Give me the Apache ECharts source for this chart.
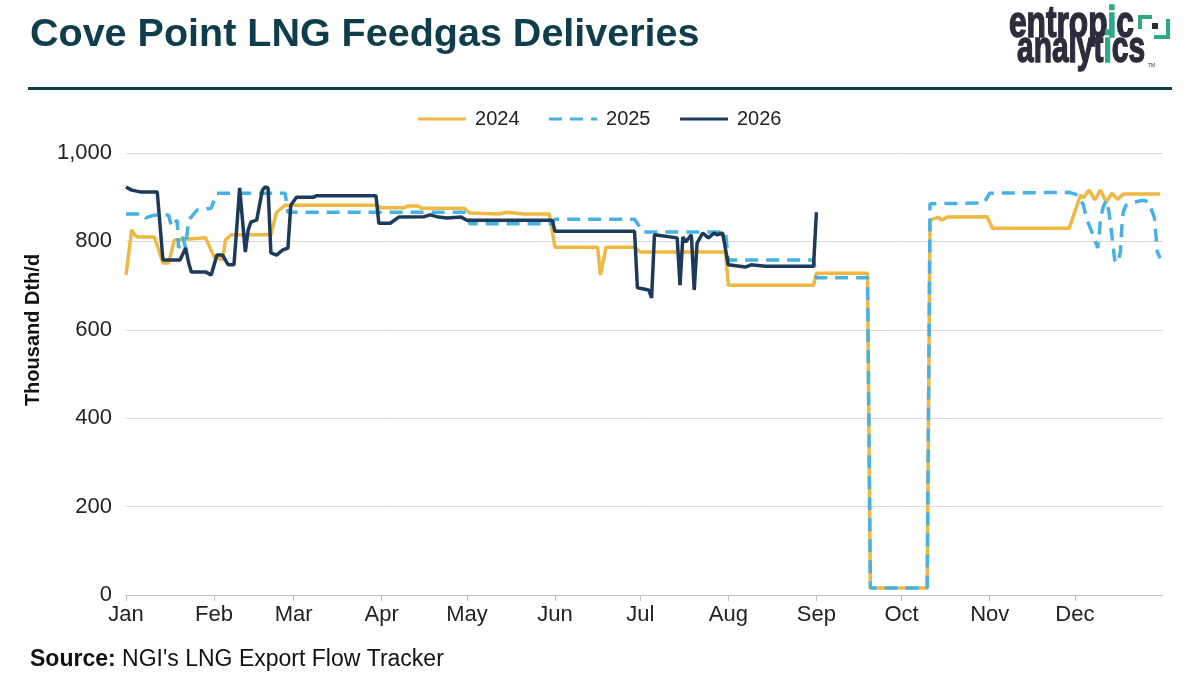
<!DOCTYPE html>
<html>
<head>
<meta charset="utf-8">
<title>Cove Point LNG Feedgas Deliveries</title>
<script src="https://cdn.jsdelivr.net/npm/echarts@6/dist/echarts.min.js"></script>
<style>
  html, body { margin: 0; padding: 0; background: #fff; }
  #main { width: 1198px; height: 682px; }
</style>
</head>
<body>
<div id="main"></div>
<script>
// x = day of year (0 = Jan 1), y = thousand Dth/d
var monthNames = ['Jan', 'Feb', 'Mar', 'Apr', 'May', 'Jun', 'Jul', 'Aug', 'Sep', 'Oct', 'Nov', 'Dec'];
var monthStarts = [0, 31, 59, 90, 120, 151, 181, 212, 243, 273, 304, 334];
var yTicks = [0, 200, 400, 600, 800, 1000];

var flow2024 = [
  [0, 724], [2, 826], [3, 815], [4, 810], [10, 810], [13, 751], [15, 751], [17, 803],
  [28, 808], [31, 765], [34, 758], [35, 803], [37, 815], [51, 815], [53, 866], [56, 882],
  [88, 882], [90, 876], [98, 876], [99, 880], [103, 880], [104, 875], [119, 875], [121, 864],
  [131, 862], [134, 866], [140, 862], [149, 862], [151, 787], [166, 787], [167, 724], [169, 787],
  [179, 787], [181, 776], [211, 776], [212, 701], [242, 701], [243, 728], [261, 728], [262, 16],
  [282, 16], [283, 848], [286, 855], [287, 848], [289, 855], [303, 856], [305, 830], [307, 830],
  [332, 830], [336, 905], [337, 898], [339, 916], [341, 894], [343, 916], [345, 889], [347, 909],
  [349, 895], [351, 907], [364, 907]
];

var flow2025 = [
  [0, 862], [6, 862], [7, 853], [9, 858], [11, 860], [15, 860], [16, 833], [18, 848],
  [18.5, 785], [20, 810], [21, 785], [22, 848], [25, 871], [30, 875], [31, 893], [32, 909],
  [56, 909], [57, 866], [120, 866], [121, 840], [150, 840], [151, 850], [179, 850], [182, 821],
  [211, 821], [212, 758], [242, 758], [243, 718], [261, 718], [262, 16], [282, 16], [283, 885],
  [302, 887], [304, 909], [332, 911], [335, 905], [337, 882], [338, 853], [340, 821], [342, 785],
  [342.5, 808], [343, 853], [344, 878], [345, 893], [346, 866], [347, 814], [348, 758], [349, 751],
  [350, 776], [350.5, 830], [351, 866], [352, 882], [355, 889], [358, 893], [360, 889], [362, 853],
  [363, 776], [364, 762]
];

var flow2026 = [
  [0, 923], [2, 916], [5, 912], [11, 912], [13, 758], [19, 758], [21, 785], [22, 753],
  [23, 731], [28, 731], [30, 724], [32, 769], [34, 769], [36, 747], [38, 747], [39, 833],
  [40, 921], [42, 776], [43, 826], [44, 844], [46, 848], [48, 916], [49, 923], [50, 921],
  [51, 774], [53, 769], [55, 780], [57, 785], [58, 882], [60, 900], [66, 900], [67, 903],
  [88, 903], [89, 841], [93, 841], [96, 855], [105, 856], [107, 860], [110, 855], [113, 853],
  [118, 855], [120, 848], [150, 848], [151, 823], [179, 823], [180, 695], [184, 690], [185, 672],
  [186, 815], [194, 808], [195, 701], [196, 810], [197, 799], [199, 815], [200, 690], [201, 796],
  [203, 819], [205, 808], [207, 819], [208, 815], [210, 819], [212, 747], [218, 742], [220, 747],
  [225, 744], [242, 744], [243, 866]
];

var FONT = 'Liberation Sans, Arial, sans-serif';
var TEAL = '#0f3d4c';
var GREEN = '#2fa88a';
var INK = '#2d2c3c';

function setOption(chart) {
  var option = {
    animation: false,
    backgroundColor: '#fff',
    textStyle: { fontFamily: FONT },
    legend: {
      top: 104,
      left: 'center',
      itemWidth: 48,
      itemHeight: 14,
      itemGap: 28,
      itemStyle: { opacity: 0 },
      lineStyle: { width: 3 },
      textStyle: { fontSize: 20, color: '#222', fontFamily: FONT, padding: [0, 0, 0, 4] },
      data: ['2024', '2025', '2026']
    },
    grid: { left: 126, right: 35, top: 153, bottom: 87 },
    xAxis: {
      type: 'value',
      min: 0,
      max: 365,
      axisLine: { show: true, onZero: false, lineStyle: { color: '#bfbfbf', width: 1 } },
      axisTick: { show: true, length: 6, lineStyle: { color: '#bfbfbf' }, customValues: monthStarts },
      splitLine: { show: false },
      axisLabel: {
        customValues: monthStarts,
        fontSize: 22,
        color: '#222',
        margin: 9,
        formatter: function (v) {
          var i = monthStarts.indexOf(Math.round(v));
          return i >= 0 ? monthNames[i] : '';
        }
      }
    },
    yAxis: {
      type: 'value',
      min: yTicks[0],
      max: yTicks[yTicks.length - 1],
      interval: 200,
      axisLine: { show: false },
      axisTick: { show: false },
      splitLine: { lineStyle: { color: '#d9d9d9', width: 1 } },
      axisLabel: {
        fontSize: 22,
        color: '#222',
        margin: 14,
        formatter: function (v) {
          return v >= 1000 ? Math.floor(v / 1000) + ',' + String(v % 1000).padStart(3, '0') : String(v);
        }
      }
    },
    series: [
      {
        name: '2024', type: 'line', data: flow2024, symbol: 'none',
        lineStyle: { color: '#eeb842', width: 3.5 }, itemStyle: { color: '#eeb842' }
      },
      {
        name: '2025', type: 'line', data: flow2025, symbol: 'none',
        lineStyle: { color: '#47b1e1', width: 3.5, type: [13, 8] }, itemStyle: { color: '#47b1e1' }
      },
      {
        name: '2026', type: 'line', data: flow2026, symbol: 'none',
        lineStyle: { color: '#1d3a5b', width: 3.5 }, itemStyle: { color: '#1d3a5b' }
      }
    ],
    graphic: [
      // title
      {
        type: 'text', left: 30, top: 15,
        style: { text: 'Cove Point LNG Feedgas Deliveries', font: 'bold 39.5px ' + FONT, fill: TEAL }
      },
      // rule under the header
      {
        type: 'rect', shape: { x: 28, y: 87, width: 1144, height: 3 },
        style: { fill: TEAL }
      },
      // logo
      {
        type: 'text', x: 1009, y: 25, scaleX: 0.72, originX: 0,
        style: {
          text: '{a|entrop}{g|i}{a|c}', x: 0, y: 0, verticalAlign: 'middle',
          rich: {
            a: { font: 'bold 44px ' + FONT, fill: INK, stroke: INK, lineWidth: 1.5 },
            g: { font: 'bold 44px ' + FONT, fill: GREEN, stroke: GREEN, lineWidth: 1.5 }
          }
        }
      },
      {
        type: 'text', x: 1017, y: 50, scaleX: 0.68, originX: 0,
        style: {
          text: '{a|analyt}{g|i}{a|cs}', x: 0, y: 0, verticalAlign: 'middle',
          rich: {
            a: { font: 'bold 44px ' + FONT, fill: INK, stroke: INK, lineWidth: 1.5 },
            g: { font: 'bold 44px ' + FONT, fill: GREEN, stroke: GREEN, lineWidth: 1.5 }
          }
        }
      },
      {
        type: 'text', x: 1148, y: 63,
        style: { text: 'TM', font: '5px ' + FONT, fill: INK }
      },
      {
        type: 'polyline', shape: { points: [[1140, 29], [1140, 17], [1152, 17]] },
        style: { stroke: GREEN, lineWidth: 4, fill: null }
      },
      {
        type: 'polyline', shape: { points: [[1168, 19], [1168, 37], [1154, 37]] },
        style: { stroke: GREEN, lineWidth: 4, fill: null }
      },
      {
        type: 'rect', shape: { x: 1152, y: 23, width: 6, height: 6 },
        style: { fill: INK }
      },
      // y axis title
      {
        type: 'text', x: 33, y: 330, rotation: Math.PI / 2,
        style: {
          text: 'Thousand Dth/d', font: 'bold 20px ' + FONT, fill: '#111',
          align: 'center', verticalAlign: 'middle'
        }
      },
      // source line
      {
        type: 'text', left: 30, top: 648,
        style: {
          text: '{b|Source:} NGI\'s LNG Export Flow Tracker',
          font: '23px ' + FONT, fill: '#111',
          rich: { b: { font: 'bold 23px ' + FONT, fill: '#111' } }
        }
      }
    ]
  };
  chart.setOption(option);
}

var chart = echarts.init(document.getElementById('main'), null, { renderer: 'canvas' });
setOption(chart);
</script>
</body>
</html>
